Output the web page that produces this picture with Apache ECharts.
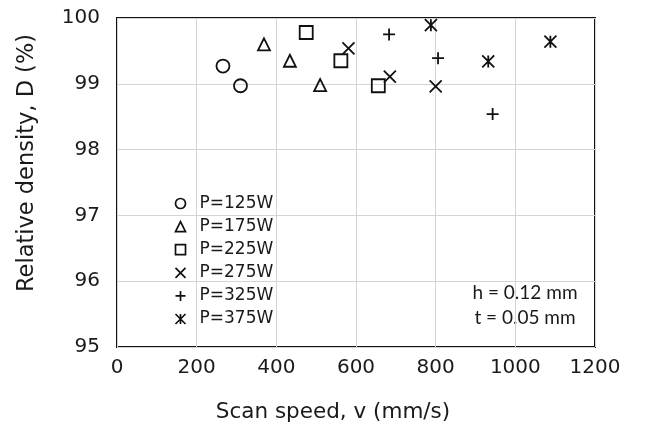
<!DOCTYPE html>
<html>
<head>
<meta charset="utf-8">
<script src="https://cdn.jsdelivr.net/npm/echarts@6/dist/echarts.min.js"></script>
<style>
  html, body { margin: 0; padding: 0; background: #fff; }
  #chart { width: 646px; height: 433px; }
</style>
</head>
<body>
<div id="chart"></div>
<script>
// Relative density versus scan speed for six laser powers
const powerLabels = ['P=125W', 'P=175W', 'P=225W', 'P=275W', 'P=325W', 'P=375W'];

const speedP125 = [266, 310];
const densityP125 = [99.27, 98.97];

const speedP175 = [369, 434, 510];
const densityP175 = [99.60, 99.35, 98.98];

const speedP225 = [475, 562, 656];
const densityP225 = [99.78, 99.35, 98.97];

const speedP275 = [581, 685, 800];
const densityP275 = [99.54, 99.11, 98.96];

const speedP325 = [683, 806, 943];
const densityP325 = [99.75, 99.39, 98.54];

const speedP375 = [788, 932, 1088];
const densityP375 = [99.89, 99.34, 99.64];

const xTicks = [0, 200, 400, 600, 800, 1000, 1200];
const yTicks = [95, 96, 97, 98, 99, 100];

const speeds = [speedP125, speedP175, speedP225, speedP275, speedP325, speedP375];
const densities = [densityP125, densityP175, densityP225, densityP275, densityP325, densityP375];

const markers = [
  { symbol: 'circle', size: 13 },
  { symbol: 'triangle', size: 12 },
  { symbol: 'rect', size: 13 },
  { symbol: 'path://M0,0L10,10M10,0L0,10', size: 12 },
  { symbol: 'path://M5,0L5,10M0,5L10,5', size: 12 },
  { symbol: 'path://M0,0L10,10M10,0L0,10M5,0L5,10', size: 12 }
];

const series = powerLabels.map((name, i) => ({
  name: name,
  type: 'scatter',
  symbol: markers[i].symbol,
  symbolSize: markers[i].size,
  itemStyle: { color: 'none', borderColor: '#111', borderWidth: 1.8, opacity: 1 },
  emphasis: { disabled: true },
  data: speeds[i].map((v, k) => [v, densities[i][k]])
}));

const tickFont = 'DejaVu Sans, Verdana, sans-serif';

const chart = echarts.init(document.getElementById('chart'), null, { renderer: 'canvas' });
chart.setOption({
  animation: false,
  backgroundColor: '#ffffff',
  grid: {
    left: 117, right: 51, top: 18, bottom: 86,
    show: true, borderColor: '#111', borderWidth: 2, backgroundColor: 'transparent'
  },
  xAxis: {
    type: 'value',
    min: xTicks[0], max: xTicks[xTicks.length - 1], interval: 200,
    axisLine: { show: false },
    axisTick: { show: false },
    splitLine: { show: true, lineStyle: { color: '#d4d4d4', width: 1 } },
    axisLabel: {
      color: '#1a1a1a', fontFamily: tickFont, fontSize: 20, margin: 11,
      formatter: (v) => String(v)
    }
  },
  yAxis: {
    type: 'value',
    min: yTicks[0], max: yTicks[yTicks.length - 1], interval: 1,
    axisLine: { show: false },
    axisTick: { show: false },
    splitLine: { show: true, lineStyle: { color: '#d4d4d4', width: 1 } },
    axisLabel: {
      color: '#1a1a1a', fontFamily: tickFont, fontSize: 20, margin: 17,
      formatter: (v) => String(v)
    }
  },
  legend: {
    orient: 'vertical',
    left: 168, top: 190,
    itemWidth: 10, itemHeight: 10,
    itemGap: 6.1,
    selectedMode: false,
    data: powerLabels,
    itemStyle: { borderWidth: 1.7, borderColor: '#111', color: 'none' },
    textStyle: { color: '#1a1a1a', fontFamily: tickFont, fontSize: 17, padding: [0, 0, 0, 9] }
  },
  graphic: [
    {
      type: 'text', x: 333, y: 412,
      style: {
        text: 'Scan speed, v (mm/s)',
        textAlign: 'center', textVerticalAlign: 'middle',
        fill: '#1a1a1a', font: '21.5px DejaVu Sans'
      }
    },
    {
      type: 'text', rotation: Math.PI / 2, x: 27.5, y: 163,
      style: {
        text: 'Relative density, D (%)',
        textAlign: 'center', textVerticalAlign: 'middle',
        fill: '#1a1a1a', font: '22.5px DejaVu Sans'
      }
    },
    {
      type: 'text', x: 525, y: 293,
      style: {
        text: 'h = 0.12 mm', textAlign: 'center', textVerticalAlign: 'middle',
        fill: '#1a1a1a', font: '19px Lato'
      }
    },
    {
      type: 'text', x: 525, y: 318,
      style: {
        text: 't = 0.05 mm', textAlign: 'center', textVerticalAlign: 'middle',
        fill: '#1a1a1a', font: '19px Lato'
      }
    }
  ],
  series: series
});
</script>
</body>
</html>
